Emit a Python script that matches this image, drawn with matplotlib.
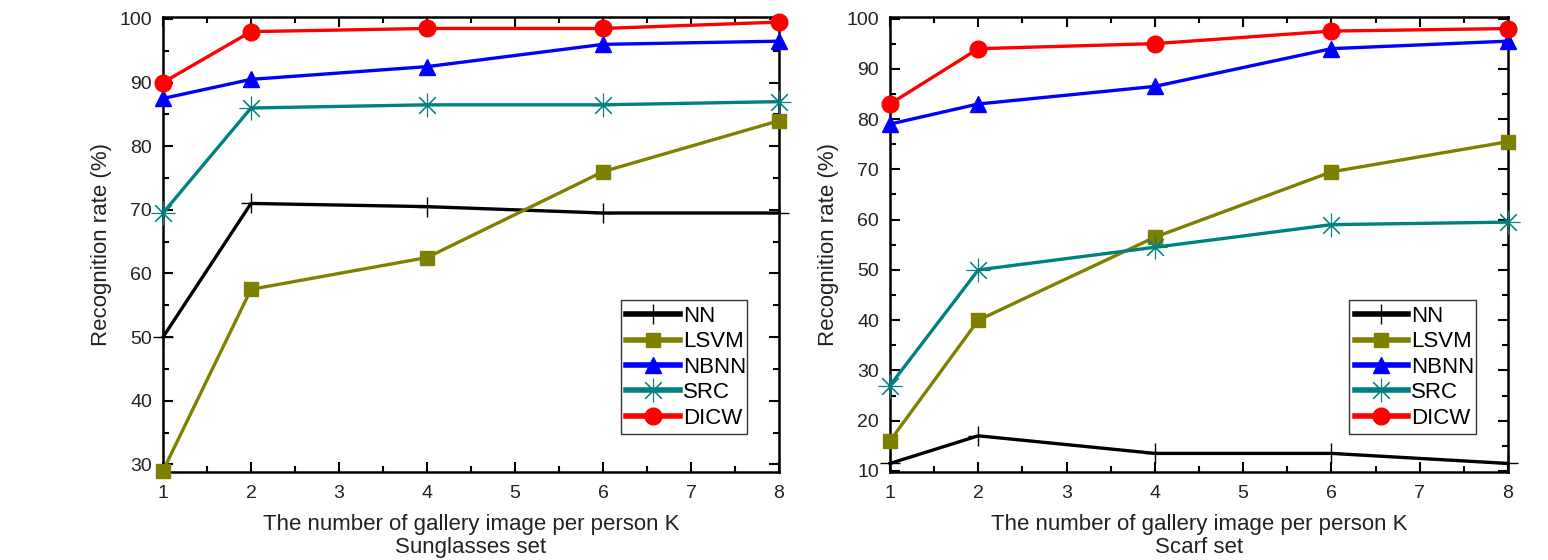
import matplotlib
matplotlib.use("Agg")
import matplotlib.pyplot as plt
from matplotlib.ticker import MultipleLocator

plt.rcParams['font.family'] = ['Liberation Sans', 'DejaVu Sans']

K = [1, 2, 4, 6, 8]
methods = ["NN", "LSVM", "NBNN", "SRC", "DICW"]

sun_NN = [50, 71, 70.5, 69.5, 69.5]
sun_LSVM = [29, 57.5, 62.5, 76, 84]
sun_NBNN = [87.5, 90.5, 92.5, 96, 96.5]
sun_SRC = [69.5, 86, 86.5, 86.5, 87]
sun_DICW = [90, 98, 98.5, 98.5, 99.5]

scarf_NN = [11.5, 17, 13.5, 13.5, 11.5]
scarf_LSVM = [16, 40, 56.5, 69.5, 75.5]
scarf_NBNN = [79, 83, 86.5, 94, 95.5]
scarf_SRC = [27, 50, 54.5, 59, 59.5]
scarf_DICW = [83, 94, 95, 97.5, 98]

xlabel = "The number of gallery image per person K"
ylabel = "Recognition rate (%)"
titles = ["Sunglasses set", "Scarf set"]

colors = {"NN": "#000000", "LSVM": "#808000", "NBNN": "#0000ff",
          "SRC": "#008080", "DICW": "#ff0000"}
markers = {"NN": "+", "LSVM": "s", "NBNN": "^", "SRC": (8, 2, 0), "DICW": "o"}
msizes = {"NN": 14, "LSVM": 10, "NBNN": 11, "SRC": 17, "DICW": 12}
mews = {"NN": 1.0, "LSVM": 1, "NBNN": 1, "SRC": 0.8, "DICW": 1}

fig = plt.figure(figsize=(15.48, 5.6), dpi=100)
ax1 = fig.add_axes([163/1548, 1-472/560, (779-163)/1548, (472-17)/560])
ax2 = fig.add_axes([890/1548, 1-472/560, (1508-890)/1548, (472-17)/560])

datasets = [
    (ax1, [sun_NN, sun_LSVM, sun_NBNN, sun_SRC, sun_DICW], (28.8, 100.3), titles[0]),
    (ax2, [scarf_NN, scarf_LSVM, scarf_NBNN, scarf_SRC, scarf_DICW], (9.8, 100.3), titles[1]),
]

for ax, series, ylim, title in datasets:
    for name, vals in zip(methods, series):
        c = colors[name]
        ax.plot(K, vals, color=c, lw=2.4, marker=markers[name], ms=msizes[name],
                mew=mews[name], mfc=c, mec=c, label=name, clip_on=False, zorder=3)
    ax.set_xlim(1, 8)
    ax.set_ylim(*ylim)
    ax.xaxis.set_major_locator(MultipleLocator(1))
    ax.xaxis.set_minor_locator(MultipleLocator(0.5))
    ax.yaxis.set_major_locator(MultipleLocator(10))
    ax.yaxis.set_minor_locator(MultipleLocator(5))
    ax.tick_params(which='both', direction='in', top=True, right=True, width=1.5,
                   labelsize=14, colors='black', labelcolor='#222222')
    ax.tick_params(axis='x', pad=9)
    ax.tick_params(axis='y', pad=8)
    ax.tick_params(which='major', length=7)
    ax.tick_params(which='minor', length=4)
    for sp in ax.spines.values():
        sp.set_linewidth(1.8)
    ax.set_xlabel(xlabel + "\n" + title, fontsize=16, color='#222222', labelpad=9,
                  linespacing=1.15)
    ax.set_ylabel(ylabel, fontsize=16, color='#222222', labelpad=5)
    leg = ax.legend(loc='lower left', bbox_to_anchor=(0.743, 0.083, 0.205, 0.304),
                    mode='expand', borderaxespad=0, fontsize=16, frameon=True,
                    fancybox=False, edgecolor='black', handlelength=2.4,
                    handletextpad=0.15, labelspacing=0.2, borderpad=0.25)
    leg.get_frame().set_linewidth(1.0)
    for h in leg.get_lines():
        h.set_linewidth(4)

fig.savefig("out.png", dpi=100)
